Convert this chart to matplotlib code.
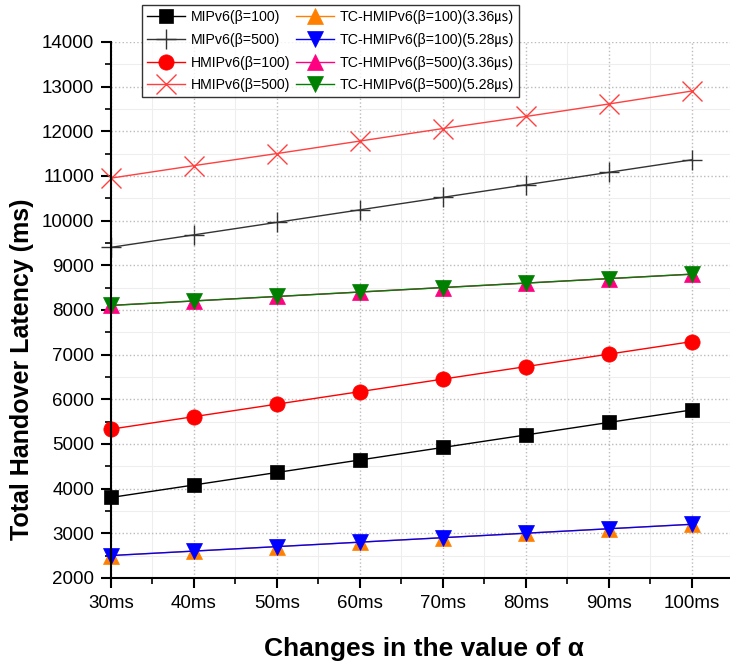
import matplotlib.pyplot as plt
from matplotlib.ticker import MultipleLocator

plt.rcParams['font.family'] = ['Liberation Sans', 'Noto Sans CJK JP']

alpha_labels = ['30ms', '40ms', '50ms', '60ms', '70ms', '80ms', '90ms', '100ms']

mip_100 = [3800, 4080, 4360, 4640, 4920, 5200, 5480, 5760]
mip_500 = [9400, 9680, 9960, 10240, 10520, 10800, 11080, 11360]
hmip_100 = [5330, 5610, 5890, 6170, 6450, 6730, 7010, 7290]
hmip_500 = [10950, 11230, 11500, 11780, 12060, 12330, 12610, 12900]
tc_100_336 = [2500, 2600, 2700, 2800, 2900, 3000, 3100, 3200]
tc_100_528 = [2500, 2600, 2700, 2800, 2900, 3000, 3100, 3200]
tc_500_336 = [8100, 8200, 8300, 8400, 8500, 8600, 8700, 8800]
tc_500_528 = [8100, 8200, 8300, 8400, 8500, 8600, 8700, 8800]

x = list(range(len(alpha_labels)))

fig = plt.figure(figsize=(7.3, 6.65), dpi=100)
ax = fig.add_axes([0.152, 0.131, 0.848, 0.806])

series = [
    (mip_100, 'MIPv6(β=100)', 'black', 's', 10, 0),
    (mip_500, 'MIPv6(β=500)', '#333333', '+', 14, 1),
    (hmip_100, 'HMIPv6(β=100)', 'red', 'o', 11, 0),
    (hmip_500, 'HMIPv6(β=500)', '#ff4040', 'x', 14, 1),
    (tc_100_336, 'TC-HMIPv6(β=100)(3.36㎲)', '#ff8000', '^', 11, 0),
    (tc_100_528, 'TC-HMIPv6(β=100)(5.28㎲)', 'blue', 'v', 11, 0),
    (tc_500_336, 'TC-HMIPv6(β=500)(3.36㎲)', '#ff0080', '^', 11, 0),
    (tc_500_528, 'TC-HMIPv6(β=500)(5.28㎲)', 'green', 'v', 11, 0),
]

handles = []
for vals, label, color, marker, ms, thin in series:
    h, = ax.plot(x, vals, color=color, marker=marker, markersize=ms,
                 linewidth=1.0, markeredgewidth=1.0 if thin else 0.5,
                 markeredgecolor=color, label=label, clip_on=False)
    handles.append(h)

ax.set_xlim(0, 7.46)
ax.set_ylim(2000, 14000)
ax.set_xticks(x)
ax.set_xticklabels(alpha_labels)
ax.xaxis.set_minor_locator(MultipleLocator(0.5))
ax.yaxis.set_major_locator(MultipleLocator(1000))
ax.yaxis.set_minor_locator(MultipleLocator(500))

for s in ['top', 'right']:
    ax.spines[s].set_visible(False)
ax.spines['left'].set_linewidth(1.5)
ax.spines['bottom'].set_linewidth(1.5)

ax.tick_params(which='major', direction='out', length=7, width=1.5,
               labelsize=13.5, pad=5)
ax.tick_params(which='minor', direction='out', length=4, width=1.2)

ax.grid(which='major', color='#bbbbbb', linestyle=':', linewidth=1.0)
ax.grid(which='minor', color='#eeeeee', linestyle='-', linewidth=0.8)
ax.set_axisbelow(True)

ax.set_xlabel('Changes in the value of α', fontsize=19, fontweight='bold')
ax.xaxis.set_label_coords(0.505, -0.11)
ax.set_ylabel('Total Handover Latency (ms)', fontsize=18, fontweight='bold')
ax.yaxis.set_label_coords(-0.124, 0.39)

leg = fig.legend(handles, [s[1] for s in series],
                 loc='upper left', bbox_to_anchor=(135 / 730, 1 + 2 / 665),
                 ncol=2, fontsize=10.2, frameon=True, fancybox=False,
                 edgecolor='black', handlelength=2.7, columnspacing=0.4,
                 handletextpad=0.4, borderpad=0.35, labelspacing=0.62,
                 markerscale=1.0)
leg.get_frame().set_linewidth(1.0)

fig.savefig('out.png', dpi=100)
